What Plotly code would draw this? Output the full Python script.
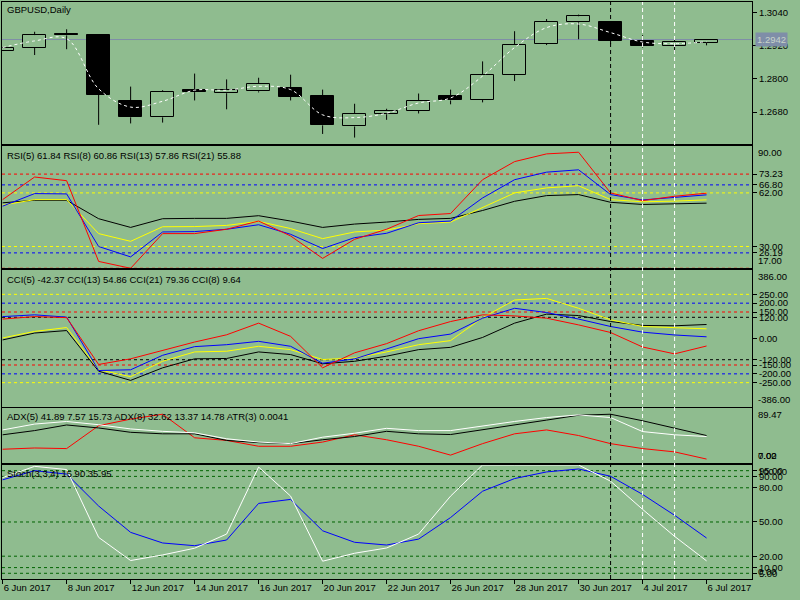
import plotly.graph_objects as go
from plotly.subplots import make_subplots

# Daily bars, GBPUSD
dates = ["6 Jun 2017", "7 Jun 2017", "8 Jun 2017", "9 Jun 2017", "12 Jun 2017", "13 Jun 2017",
         "14 Jun 2017", "15 Jun 2017", "16 Jun 2017", "19 Jun 2017", "20 Jun 2017", "21 Jun 2017",
         "22 Jun 2017", "23 Jun 2017", "26 Jun 2017", "27 Jun 2017", "28 Jun 2017", "29 Jun 2017",
         "30 Jun 2017", "3 Jul 2017", "4 Jul 2017", "5 Jul 2017", "6 Jul 2017"]

open_ = [1.2901, 1.2912, 1.2962, 1.2958, 1.2721, 1.2661, 1.2759, 1.2748, 1.2755, 1.2767, 1.2738, 1.2628,
         1.2672, 1.2684, 1.2738, 1.2724, 1.2815, 1.2927, 1.3004, 1.3004, 1.2938, 1.2919, 1.2931]
high = [1.2913, 1.2970, 1.2979, 1.2958, 1.2772, 1.2759, 1.2819, 1.2798, 1.2804, 1.2815, 1.2761, 1.2710,
        1.2692, 1.2747, 1.2761, 1.2863, 1.2972, 1.3016, 1.3032, 1.3004, 1.2958, 1.2945, 1.2942]
low = [1.2901, 1.2886, 1.2907, 1.2634, 1.2639, 1.2642, 1.2722, 1.2690, 1.2751, 1.2722, 1.2601, 1.2588,
       1.2652, 1.2675, 1.2708, 1.2715, 1.2792, 1.2922, 1.2943, 1.2925, 1.2913, 1.2893, 1.2921]
close = [1.2913, 1.2958, 1.2957, 1.2743, 1.2661, 1.2753, 1.2752, 1.2761, 1.2782, 1.2736, 1.2632, 1.2673,
         1.2684, 1.2721, 1.2722, 1.2815, 1.2924, 1.3007, 1.3026, 1.2937, 1.2919, 1.2934, 1.2942]
ma = [1.2913, 1.2937, 1.2945, 1.2764, 1.2698, 1.2719, 1.2759, 1.2759, 1.2773, 1.2761, 1.2670, 1.2660,
      1.2676, 1.2713, 1.2731, 1.2810, 1.2913, 1.2985, 1.2998, 1.2967, 1.2933, 1.2927, 1.2934]
last_price = 1.2942
price_ticks = [1.3040, 1.2920, 1.2800, 1.2680]

rsi5 = [58.0, 71.5, 69.3, 21.1, 17.0, 37.7, 37.7, 40.3, 45.2, 36.3, 22.9, 34.3, 40.3, 48.5, 49.7, 69.9,
        80.7, 85.3, 86.3, 62.0, 57.4, 60.0, 61.84]
rsi8 = [54.1, 61.6, 61.4, 30.0, 23.8, 38.7, 38.9, 40.3, 43.0, 37.3, 28.8, 35.3, 37.9, 44.2, 45.2, 59.0,
        69.9, 74.4, 75.8, 61.0, 57.8, 59.4, 60.86]
rsi13 = [54.7, 58.0, 58.0, 37.7, 33.1, 41.8, 41.9, 42.6, 45.0, 40.7, 34.7, 38.7, 39.8, 43.6, 44.6, 53.1,
         62.0, 65.0, 66.3, 58.0, 56.7, 57.1, 57.86]
rsi21 = [56.1, 57.6, 57.6, 46.6, 41.4, 46.6, 46.8, 46.8, 48.4, 45.2, 41.4, 43.4, 44.6, 46.2, 46.8, 51.5,
         57.0, 60.4, 61.0, 56.4, 55.1, 55.5, 55.88]
rsi_levels = [(73.23, "red"), (66.80, "blue"), (62.00, "yellow"), (30.00, "yellow"), (26.19, "blue"), (17.00, "red")]
rsi_ticks = [73.23, 66.80, 62.00, 30.00, 26.19]
rsi_edges = [90.00, 17.00]

cci5 = [110, 124, 118, -147, -115, -68, -20, 21, 87, 12, -166, -81, -29, 44, 96, 134, 128, 115, 77, 34,
        -48, -87, -42.37]
cci8 = [124, 134, 121, -181, -177, -95, -46, -35, -16, -44, -140, -115, -59, -1, 25, 115, 171, 147, 110,
        68, 36, 20, 9.64]
cci13 = [3, 40, 62, -177, -216, -129, -76, -72, -44, -63, -119, -110, -76, -35, -12, 118, 218, 227, 171,
         106, 68, 62, 54.86]
cci21 = [-8, 31, 45, -185, -237, -166, -115, -113, -76, -91, -143, -129, -100, -63, -50, 6, 87, 138, 130,
         96, 74, 72, 79.36]
cci_levels = [(250, "yellow"), (200, "blue"), (150, "red"), (120, "black"),
              (-120, "black"), (-150, "red"), (-200, "blue"), (-250, "yellow")]
cci_ticks = [250, 200, 150, 120, 0, -120, -150, -200, -250]
cci_edges = [386.00, -386.00]

adx_white = [56.7, 65.6, 69.5, 64.6, 58.2, 54.6, 52.3, 43.3, 38.3, 35.9, 45.7, 51.7, 59.1, 55.7, 55.7,
             63.1, 69.5, 75.5, 79.5, 75.5, 54.2, 49.3, 46.7]
adx_black = [49.3, 55.7, 64.2, 59.7, 53.1, 50.8, 50.8, 40.8, 37.4, 35.9, 41.8, 46.7, 54.6, 50.8, 49.7,
             56.7, 64.2, 71.6, 79.0, 80.5, 70.6, 59.1, 48.2]
adx_red = [27.4, 29.3, 28.4, 63.1, 73.1, 80.5, 44.8, 40.8, 31.9, 31.9, 38.3, 49.3, 41.8, 31.9, 18.5,
           35.9, 50.8, 56.7, 48.2, 35.9, 28.4, 23.4, 12.5]
adx_ticks = []
adx_edges = [89.47, 7.02, 0.00]

stoch_main = [89.0, 98.8, 96.0, 36.5, 16.2, 21.1, 27.0, 39.4, 98.2, 72.7, 15.6, 22.6, 27.2, 39.4, 72.7,
              100, 100, 100, 100, 85.8, 61.1, 37.4, 15.90]
stoch_signal = [87.0, 95.0, 92.0, 64.0, 40.9, 31.6, 29.2, 34.2, 66.3, 69.8, 42.3, 32.2, 29.8, 35.0, 53.9,
                77.0, 88.1, 93.9, 96.5, 90.1, 74.2, 55.9, 35.95]
stoch_levels = [95, 90, 80, 50, 20, 10, 5]
stoch_ticks = [95, 90, 80, 50, 20, 10, 5]
stoch_edges = [100.00, 0.00]

# bars with vertical separators: 3 Jul (black), 4 Jul and 5 Jul (white)
vlines = [("3 Jul 2017", "black"), ("4 Jul 2017", "white"), ("5 Jul 2017", "white")]

BG = "#8fbc8f"
FONT = "Liberation Sans"
idx = list(range(len(dates)))

fig = make_subplots(rows=5, cols=1, shared_xaxes=True)

# candles: wicks in two pieces so hollow bodies stay clear
wx, wy = [], []
for i in idx:
    top = max(open_[i], close[i])
    bot = min(open_[i], close[i])
    wx += [i, i, None, i, i, None]
    wy += [high[i], top, None, bot, low[i], None]
fig.add_trace(go.Scatter(x=wx, y=wy, mode="lines", line=dict(color="black", width=1),
                         hoverinfo="skip"), row=1, col=1)
fig.add_trace(go.Bar(
    x=idx,
    y=[abs(c - o) for o, c in zip(open_, close)],
    base=[min(o, c) for o, c in zip(open_, close)],
    width=0.72,
    marker=dict(color=[BG if c >= o else "black" for o, c in zip(open_, close)],
                line=dict(color="black", width=1)),
), row=1, col=1)
fig.add_trace(go.Scatter(x=idx, y=ma, mode="lines",
                         line=dict(color="white", width=1, dash="3px,3px", shape="spline")),
              row=1, col=1)

for series, color in [(rsi21, "black"), (rsi13, "yellow"), (rsi8, "blue"), (rsi5, "red")]:
    fig.add_trace(go.Scatter(x=idx, y=series, mode="lines", line=dict(color=color, width=1)), row=2, col=1)

for series, color in [(cci21, "black"), (cci13, "yellow"), (cci8, "blue"), (cci5, "red")]:
    fig.add_trace(go.Scatter(x=idx, y=series, mode="lines", line=dict(color=color, width=1)), row=3, col=1)

for series, color in [(adx_red, "red"), (adx_black, "black"), (adx_white, "white")]:
    fig.add_trace(go.Scatter(x=idx, y=series, mode="lines", line=dict(color=color, width=1)), row=4, col=1)

for series, color in [(stoch_signal, "blue"), (stoch_main, "white")]:
    fig.add_trace(go.Scatter(x=idx, y=series, mode="lines", line=dict(color=color, width=1)), row=5, col=1)

# level lines
shapes = []
shapes.append(dict(type="line", xref="paper", x0=0, x1=1, yref="y", y0=last_price, y1=last_price,
                   line=dict(color="#7f8ea8", width=1), layer="below"))
for v, c in rsi_levels:
    shapes.append(dict(type="line", xref="paper", x0=0, x1=1, yref="y2", y0=v, y1=v,
                       line=dict(color=c, width=1, dash="3px,3px"), layer="below"))
for v, c in cci_levels:
    shapes.append(dict(type="line", xref="paper", x0=0, x1=1, yref="y3", y0=v, y1=v,
                       line=dict(color=c, width=1, dash="3px,3px"), layer="below"))
for v in stoch_levels:
    shapes.append(dict(type="line", xref="paper", x0=0, x1=1, yref="y5", y0=v, y1=v,
                       line=dict(color="#006400", width=1, dash="3px,3px"), layer="below"))
for d, c in vlines:
    i = dates.index(d)
    shapes.append(dict(type="line", xref="x", x0=i, x1=i, yref="paper", y0=0, y1=1,
                       line=dict(color=c, width=1, dash="4px,3px"), layer="above"))

domains = [[0.7539, 1.0], [0.5385, 0.7504], [0.2986, 0.5350], [0.2016, 0.2958], [0.0, 0.1976]]
ranges = [[1.25647, 1.30775], [17, 90], [-386, 386], [7.02, 89.47], [0, 100]]
tickvals = [price_ticks, rsi_ticks, cci_ticks, adx_ticks, stoch_ticks]
ticktexts = [["%.4f" % v for v in price_ticks]] + [["%.2f" % v for v in tv] for tv in tickvals[1:]]
edges = [[], rsi_edges, cci_edges, adx_edges, stoch_edges]

axfont = dict(family=FONT, size=9.5, color="black")
layout = dict(
    width=800, height=600,
    margin=dict(l=2, r=48, t=2, b=21),
    paper_bgcolor=BG, plot_bgcolor=BG,
    showlegend=False,
    font=axfont,
    shapes=shapes,
    bargap=0,
)
for k in range(5):
    n = "" if k == 0 else str(k + 1)
    layout["yaxis" + n] = dict(
        domain=domains[k], range=ranges[k], side="right", showgrid=False, zeroline=False,
        showline=True, mirror=True, linecolor="black", linewidth=1,
        tickvals=tickvals[k], ticktext=ticktexts[k], ticks="outside", ticklen=4,
        tickcolor="black", tickfont=axfont, fixedrange=True,
    )
    layout["xaxis" + n] = dict(
        range=[-0.02, 23.42], showgrid=False, zeroline=False,
        showline=True, mirror=True, linecolor="black", linewidth=1,
        showticklabels=(k == 4), fixedrange=True,
        tickvals=idx[::2], ticktext=dates[::2],
        ticks="outside" if k == 4 else "", ticklen=4, tickcolor="black",
        ticklabelposition="outside right", tickfont=axfont,
    )
fig.update_layout(**layout)

# edge labels of each window are pushed inside, the way the terminal draws them
for k in range(1, 5):
    n = str(k + 1)
    lo, hi = ranges[k]
    for v in edges[k]:
        at_top = abs(v - hi) < abs(v - lo)
        fig.add_annotation(text="%.2f" % v, xref="paper", yref="y%s domain" % n, x=1,
                           y=1 if at_top else 0, xanchor="left",
                           yanchor="top" if at_top else "bottom", xshift=5,
                           yshift=0 if at_top else 1,
                           showarrow=False, font=axfont, borderpad=0)

ann = [
    ("GBPUSD,Daily", 0.9873),
    ("RSI(5) %.2f RSI(8) %.2f RSI(13) %.2f RSI(21) %.2f" % (rsi5[-1], rsi8[-1], rsi13[-1], rsi21[-1]), 0.7336),
    ("CCI(5) %.2f CCI(13) %.2f CCI(21) %.2f CCI(8) %.2f" % (cci5[-1], cci13[-1], cci21[-1], cci8[-1]), 0.5194),
    ("ADX(5) 41.89 7.57 15.73 ADX(8) 32.62 13.37 14.78 ATR(3) 0.0041", 0.2813),
    ("Stoch(3,3,4) %.2f %.2f" % (stoch_main[-1], stoch_signal[-1]), 0.1820),
]
for text, y in ann:
    fig.add_annotation(text=text, xref="paper", yref="paper", x=0.004, y=y, xanchor="left",
                       yanchor="middle", showarrow=False, font=axfont)

# last price tag
fig.add_annotation(text="%.4f" % last_price, xref="paper", yref="y", x=1, y=last_price,
                   xanchor="left", yanchor="middle", xshift=3, showarrow=False,
                   bgcolor="#7f8ea8", font=dict(family=FONT, size=9.5, color="#c8d4c8"),
                   borderpad=1)

fig.write_html("out.html", config={"displayModeBar": False},
               post_script="document.body.style.margin='0';")
